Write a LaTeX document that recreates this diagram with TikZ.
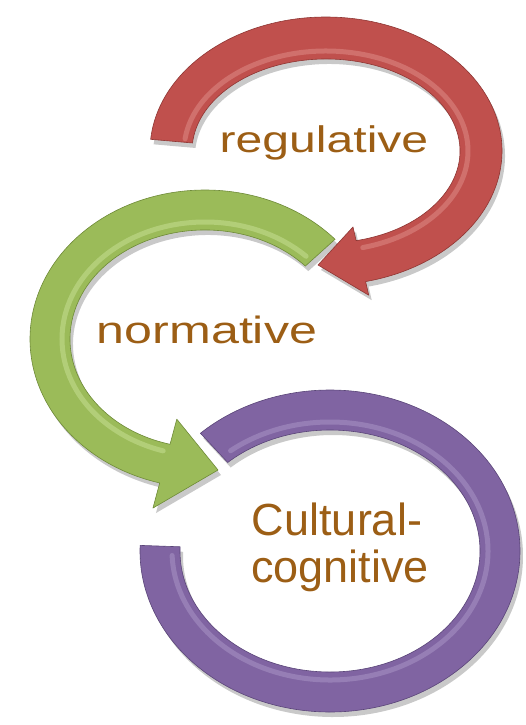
\documentclass[tikz,border=0pt]{standalone}
\usepackage{fontspec}
\usepackage{graphicx}
\setmainfont{Liberation Sans}
\usetikzlibrary{calc,shadows}
\definecolor{redbase}{HTML}{C0504D}
\definecolor{redlight}{HTML}{E8A09C}
\definecolor{reddark}{HTML}{8E3633}
\definecolor{greenbase}{HTML}{9BBB59}
\definecolor{greenlight}{HTML}{D6EBA8}
\definecolor{greendark}{HTML}{6E8A38}
\definecolor{purplebase}{HTML}{8064A2}
\definecolor{purplelight}{HTML}{B8A6D2}
\definecolor{purpledark}{HTML}{5A4578}
\definecolor{labelbrown}{HTML}{9C5E15}
\tikzset{
  bandshadow/.style={drop shadow={shadow xshift=3pt,shadow yshift=-5pt,opacity=.3,fill=black!70}},
  redband/.style={fill=redbase,draw=reddark,line width=.6pt,line join=round,bandshadow},
  greenband/.style={fill=greenbase,draw=greendark,line width=.6pt,line join=round,bandshadow},
  purpleband/.style={fill=purplebase,draw=purpledark,line width=.6pt,line join=round,bandshadow},
  shine/.style={line width=5pt,opacity=.4,line cap=round},
  lbl/.style={text=labelbrown,inner sep=0pt,anchor=base}
}
\begin{document}
\begin{tikzpicture}[x=1pt,y=1pt]
\useasboundingbox (0,0) rectangle (525,-725);
% ---------- purple ring ----------
\begin{scope}[shift={(330,-551)}]
  \coordinate (pA) at (133:190pt and 161pt);
  \coordinate (pC) at (-182:150pt and 121pt);
  \path[purpleband] (pA) arc[start angle=133,end angle=-182,x radius=190pt,y radius=161pt]
     -- (pC) arc[start angle=-182,end angle=133,x radius=150pt,y radius=121pt] -- cycle;
  \coordinate (pS) at (129:158pt and 129pt);
  \draw[shine,purplelight] (pS) arc[start angle=129,end angle=-178,x radius=158pt,y radius=129pt];
\end{scope}
% ---------- green arrow ----------
\begin{scope}[shift={(205,-339)}]
  \coordinate (gA) at (42:175pt and 149pt);
  \coordinate (gB) at (255:175pt and 149pt);
  \coordinate (gM) at (255:155pt and 129pt);
  \coordinate (gC) at (255:135pt and 109pt);
  \coordinate (gBo) at ($(gM)!2.3!(gB)$);
  \coordinate (gCi) at ($(gM)!2.3!(gC)$);
  \coordinate (gT) at (13,-131);
  \path[greenband] (gA) arc[start angle=42,end angle=255,x radius=175pt,y radius=149pt]
     -- (gBo) -- (gT) -- (gCi) -- (gC)
     arc[start angle=255,end angle=42,x radius=135pt,y radius=109pt] -- cycle;
  \coordinate (gS) at (45:143pt and 117pt);
  \draw[shine,greenlight] (gS) arc[start angle=45,end angle=253,x radius=143pt,y radius=117pt];
\end{scope}
% ---------- red arrow ----------
\begin{scope}[shift={(326,-151)}]
  \coordinate (rA) at (175:176pt and 134pt);
  \coordinate (rB) at (-77:176pt and 134pt);
  \coordinate (rM) at (-77:155pt and 113pt);
  \coordinate (rC) at (-77:134pt and 92pt);
  \coordinate (rBo) at ($(rM)!1.667!(rB)$);
  \coordinate (rCi) at ($(rM)!1.667!(rC)$);
  \coordinate (rT) at (-8,-114);
  \path[redband] (rA) arc[start angle=175,end angle=-77,x radius=176pt,y radius=134pt]
     -- (rBo) -- (rT) -- (rCi) -- (rC)
     arc[start angle=-77,end angle=175,x radius=134pt,y radius=92pt] -- cycle;
  \coordinate (rS) at (173:142pt and 100pt);
  \draw[shine,redlight] (rS) arc[start angle=173,end angle=-75,x radius=142pt,y radius=100pt];
\end{scope}
% ---------- labels ----------
\node[lbl] (reg) at (324,-152) {\fontsize{37}{40}\selectfont\scalebox{1.3}[1]{regulative}};
\node[lbl] (norm) at (207,-343) {\fontsize{38}{40}\selectfont\scalebox{1.32}[1]{normative}};
\node[lbl] (cult) at (337,-535) {\fontsize{45}{47}\selectfont Cultural-};
\node[lbl] (cogn) at (340,-582) {\fontsize{45}{47}\selectfont cognitive};
\end{tikzpicture}
\end{document}
